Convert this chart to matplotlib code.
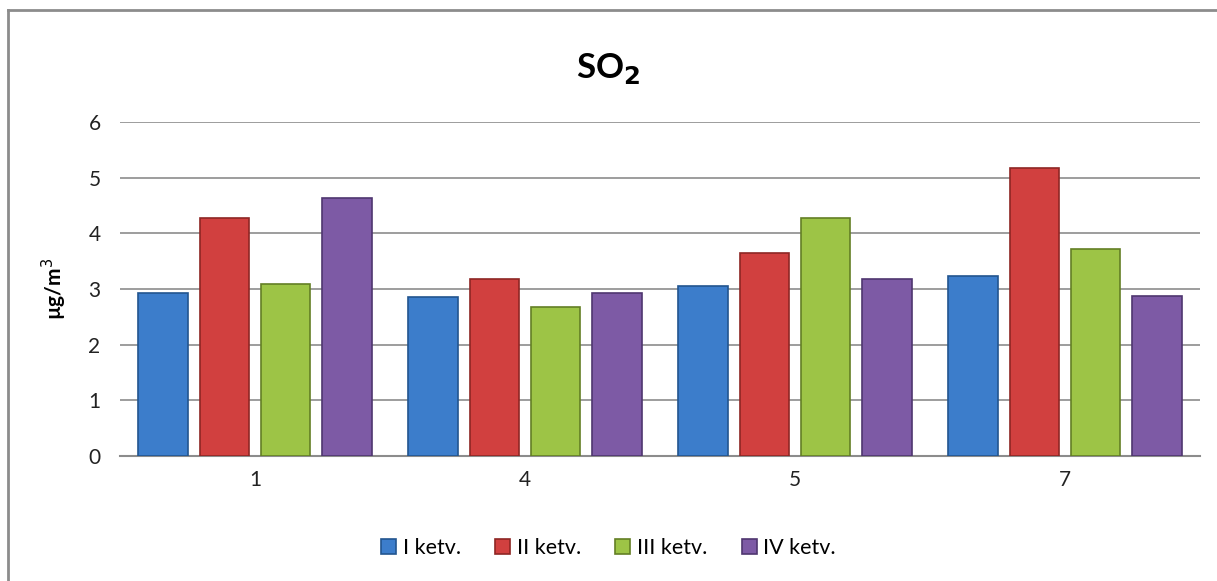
import numpy as np
import matplotlib
matplotlib.use("Agg")
import matplotlib.pyplot as plt
from matplotlib.lines import Line2D

plt.rcParams['font.family'] = ['Lato', 'DejaVu Sans']

# data
stations = ['1', '4', '5', '7']
series = ['I ketv.', 'II ketv.', 'III ketv.', 'IV ketv.']
q1 = [2.92, 2.86, 3.06, 3.23]
q2 = [4.27, 3.18, 3.65, 5.17]
q3 = [3.09, 2.67, 4.28, 3.72]
q4 = [4.64, 2.93, 3.18, 2.88]
yticks = [0, 1, 2, 3, 4, 5, 6]

colors = ['#3C7DCB', '#D1403F', '#9DC446', '#7D5AA5']
edges = ['#22558F', '#8E2624', '#637F25', '#4F3670']

fig = plt.figure(figsize=(12.17, 5.81), dpi=100)
ax = fig.add_axes([120/1217, 125/581, 1080/1217, 334/581])

x = np.arange(len(stations))
pitch = 0.226
width = 0.185
for i, (vals, name) in enumerate(zip([q1, q2, q3, q4], series)):
    pos = x + (i - 1.5) * pitch
    ax.bar(pos, vals, width, color=colors[i], edgecolor=edges[i],
           linewidth=1.2, label=name, zorder=3)

ax.set_xlim(-0.5, len(stations) - 0.5)
ax.set_ylim(0, 6)
ax.set_yticks(yticks)
ax.set_xticks(x)
ax.set_xticklabels(stations)
ax.yaxis.grid(True, color='#8C8C8C', linewidth=1.2, zorder=0)
ax.set_axisbelow(True)
for side in ['top', 'right', 'left']:
    ax.spines[side].set_visible(False)
ax.spines['bottom'].set_color('#8C8C8C')
ax.spines['bottom'].set_linewidth(1.5)
ax.tick_params(axis='x', length=0, labelsize=15, pad=10, colors='#222222')
ax.tick_params(axis='y', length=0, labelsize=15, pad=14, colors='#222222')

ax.set_ylabel('µg/m$^3$', fontsize=15, fontweight='bold', labelpad=14)
fig.text(0.5, 1 - 68/581, 'SO$_\\mathbf{2}$', ha='center', va='center',
         fontsize=25, fontweight='bold')

fig.legend(loc='center', bbox_to_anchor=(0.5, 1 - 548/581), ncol=4,
           frameon=False, fontsize=15.5, handlelength=0.7, handleheight=0.7,
           handletextpad=0.3, columnspacing=1.6)

# chart border (top and left edges visible)
fig.add_artist(Line2D([8/1217, 1], [1 - 10/581, 1 - 10/581], color='#8C8C8C', lw=2))
fig.add_artist(Line2D([8/1217, 8/1217], [0, 1 - 10/581], color='#8C8C8C', lw=2))

fig.savefig('out.png', dpi=100)
